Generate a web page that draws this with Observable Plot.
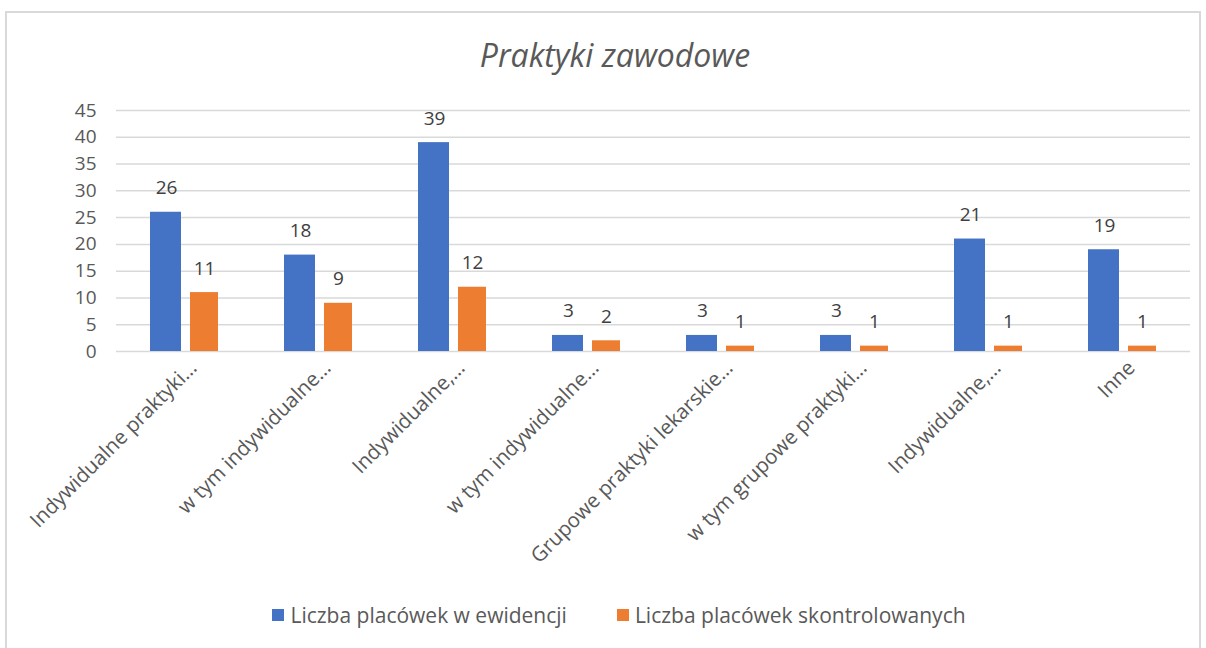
<!DOCTYPE html>
<html>
<head>
<meta charset="utf-8">
<script src="https://cdn.jsdelivr.net/npm/d3@7"></script>
<script src="https://cdn.jsdelivr.net/npm/@observablehq/plot@0.6"></script>
<style>
  html, body { margin: 0; padding: 0; background: #fff; }
  #wrap { position: relative; width: 1206px; height: 648px; overflow: hidden; font-family: "Open Sans", sans-serif; }
  #frame { position: absolute; left: 5px; top: 11px; width: 1196px; height: 660px; border: 2px solid #d9d9d9; box-sizing: border-box; }
  #title { position: absolute; left: 12px; width: 1206px; top: 33px; text-align: center; font-style: italic; font-size: 32px; color: #595959; }
  #chart { position: absolute; left: 0; top: 0; }
  #legend { position: absolute; top: 601px; left: 16px; width: 1206px; display: flex; justify-content: center; gap: 50px; font-size: 21px; color: #595959; }
  .item { display: flex; align-items: center; gap: 6px; }
  .sw { width: 12px; height: 12px; display: inline-block; }
</style>
</head>
<body>
<div id="wrap">
  <div id="frame"></div>
  <div id="chart"></div>
  <div id="title">Praktyki zawodowe</div>
  <div id="legend"></div>
</div>
<script>
const categories = ["Indywidualne praktyki…", "w tym indywidualne…", "Indywidualne,…", "w tym indywidualne…", "Grupowe praktyki lekarskie…", "w tym grupowe praktyki…", "Indywidualne,…", "Inne"];
const evidence = [26, 18, 39, 3, 3, 3, 21, 19];
const controlled = [11, 9, 12, 2, 1, 1, 1, 1];
const yTicks = [0, 5, 10, 15, 20, 25, 30, 35, 40, 45];
const seriesNames = ["Liczba placówek w ewidencji", "Liczba placówek skontrolowanych"];
const seriesColors = ["#4472C4", "#ED7D31"];

const idx = d3.range(categories.length);
const ev = idx.map(i => ({i, v: evidence[i]}));
const co = idx.map(i => ({i, v: controlled[i]}));

const chart = Plot.plot({
  width: 1206,
  height: 590,
  marginTop: 110,
  marginBottom: 239,
  marginLeft: 116,
  marginRight: 16,
  style: {fontFamily: "'Open Sans', sans-serif", background: "transparent"},
  x: {type: "band", domain: idx, padding: 0},
  y: {domain: [0, 45]},
  marks: [
    Plot.ruleY(yTicks, {stroke: "#d9d9d9", strokeWidth: 1.5}),
    Plot.barY(ev, {x: "i", y: "v", fill: seriesColors[0], insetLeft: 33, insetRight: 70}),
    Plot.barY(co, {x: "i", y: "v", fill: seriesColors[1], insetLeft: 73, insetRight: 33}),
    Plot.text(ev, {x: "i", y: "v", text: d => String(d.v), dx: -18, dy: -18, lineAnchor: "bottom", fontSize: 19, fill: "#404040"}),
    Plot.text(co, {x: "i", y: "v", text: d => String(d.v), dx: 20, dy: -18, lineAnchor: "bottom", fontSize: 19, fill: "#404040"}),
    Plot.axisY({ticks: yTicks, tickSize: 0, tickPadding: 20, fontSize: 19, fill: "#595959", label: null}),
    Plot.axisX({tickSize: 0, tickPadding: 10, tickRotate: -45, fontSize: 20.5, fill: "#595959", label: null, dx: 9, dy: 3, tickFormat: i => categories[i]})
  ]
});
document.getElementById("chart").appendChild(chart);

const legend = document.getElementById("legend");
seriesNames.forEach((n, k) => {
  const it = document.createElement("div");
  it.className = "item";
  const sw = document.createElement("span");
  sw.className = "sw";
  sw.style.background = seriesColors[k];
  const t = document.createElement("span");
  t.textContent = n;
  it.appendChild(sw); it.appendChild(t);
  legend.appendChild(it);
});
</script>
</body>
</html>
